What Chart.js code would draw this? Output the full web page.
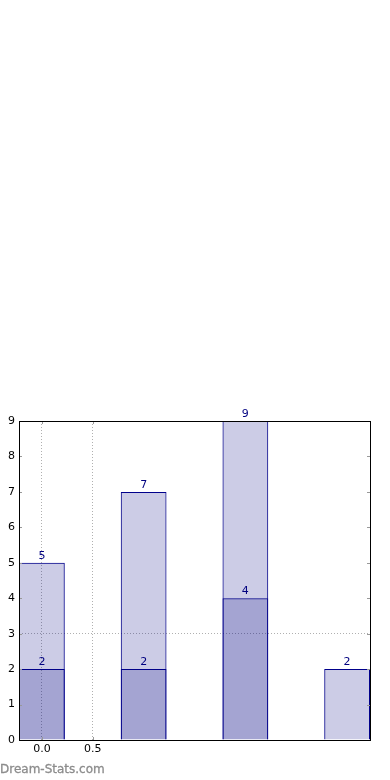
<!DOCTYPE html>
<html lang="en">
<head>
    <meta charset="UTF-8">
    <title>Bar chart</title>
    <script src="https://cdn.jsdelivr.net/npm/chart.js"></script>
    <style>
        html, body { margin: 0; padding: 0; background: #fff; }
        #wrap { position: relative; width: 390px; height: 780px; }
        #watermark {
            position: absolute; left: 0; top: 762px;
            font: 12px "DejaVu Sans", sans-serif; color: #8c8c8c;
            -webkit-text-stroke: 0.3px #8c8c8c;
        }
    </style>
</head>
<body>
<div id="wrap">
    <canvas id="myChart" width="390" height="780"></canvas>
    <div id="watermark">Dream-Stats.com</div>
</div>
<script>
    // bar positions and values
    const positions = [0, 1, 2, 3];
    const totalValues = [5, 7, 9, 2];
    const subsetValues = [2, 2, 4, 0];
    const xTickValues = [0, 0.5];
    const xTickLabels = ['0.0', '0.5'];
    const yTickValues = [0, 1, 2, 3, 4, 5, 6, 7, 8, 9];
    const yGridValues = [3];

    const fill = 'rgba(0, 0, 128, 0.2)';
    const edge = '#00008b';
    const font = { family: 'DejaVu Sans', size: 11 };
    const gridColor = '#b0b0b0';

    // inside tick marks, frame and value labels
    const decorPlugin = {
        id: 'decor',
        afterDatasetsDraw(chart) {
            const ctx = chart.ctx;
            const a = chart.chartArea;
            const xs = chart.scales.x, ys = chart.scales.y;
            ctx.save();
            ctx.strokeStyle = '#999';
            ctx.lineWidth = 1;
            yTickValues.forEach(v => {
                const y = Math.round(ys.getPixelForValue(v)) + 0.5;
                ctx.beginPath();
                ctx.moveTo(a.left, y); ctx.lineTo(a.left + 3, y);
                ctx.moveTo(a.right, y); ctx.lineTo(a.right - 3, y);
                ctx.stroke();
            });
            xTickValues.forEach(v => {
                const x = Math.round(xs.getPixelForValue(v)) + 0.5;
                ctx.beginPath();
                ctx.moveTo(x, a.bottom); ctx.lineTo(x, a.bottom - 3);
                ctx.moveTo(x, a.top); ctx.lineTo(x, a.top + 3);
                ctx.stroke();
            });
            ctx.strokeStyle = '#000';
            ctx.strokeRect(Math.round(a.left) + 0.5, Math.round(a.top) + 0.5,
                Math.round(a.right - a.left), Math.round(a.bottom - a.top));

            ctx.fillStyle = '#000080';
            ctx.font = '11px "DejaVu Sans"';
            ctx.textAlign = 'center';
            ctx.textBaseline = 'alphabetic';
            chart.data.datasets.forEach((ds, di) => {
                const meta = chart.getDatasetMeta(di);
                meta.data.forEach((bar, i) => {
                    const v = ds.data[i].y;
                    if (v === null || v === 0) return;
                    ctx.fillText(String(v), bar.x, bar.y - 4);
                });
            });
            ctx.restore();
        }
    };

    // the bar ruler uses the 0.5 tick spacing, so 0.9 of it is a 0.45-wide bar
    const barOpts = {
        backgroundColor: fill,
        borderColor: edge,
        borderWidth: 1,
        barPercentage: 0.9,
        categoryPercentage: 1.0,
        grouped: false
    };

    const ctx = document.getElementById('myChart').getContext('2d');
    new Chart(ctx, {
        type: 'bar',
        data: {
            datasets: [
                Object.assign({
                    label: 'total',
                    data: positions.map((p, i) => ({ x: p, y: totalValues[i] }))
                }, barOpts),
                Object.assign({
                    label: 'subset',
                    data: positions.map((p, i) => ({ x: p, y: subsetValues[i] === 0 ? null : subsetValues[i] }))
                }, barOpts)
            ]
        },
        options: {
            responsive: false,
            animation: false,
            layout: { padding: { top: 421, right: 20, bottom: 20, left: 0 } },
            plugins: { legend: { display: false }, tooltip: { enabled: false } },
            scales: {
                x: {
                    type: 'linear',
                    offset: false,
                    min: -0.225,
                    max: 3.225,
                    afterBuildTicks: s => { s.ticks = xTickValues.map(v => ({ value: v })); },
                    afterFit: s => { s.height = 20; },
                    ticks: {
                        color: '#000', font: font, padding: 3,
                        callback: (v, i) => xTickLabels[i]
                    },
                    grid: { offset: false, color: gridColor, drawTicks: false },
                    border: { display: false, dash: [1, 2] }
                },
                y: {
                    min: 0,
                    max: 9,
                    afterBuildTicks: s => { s.ticks = yTickValues.map(v => ({ value: v })); },
                    afterFit: s => { s.width = 19; },
                    ticks: { color: '#000', font: font, padding: 4 },
                    grid: {
                        drawTicks: false,
                        color: c => yGridValues.includes(c.tick && c.tick.value) ? gridColor : 'rgba(0,0,0,0)'
                    },
                    border: { display: false, dash: [1, 2] }
                }
            }
        },
        plugins: [decorPlugin]
    });
</script>
</body>
</html>
